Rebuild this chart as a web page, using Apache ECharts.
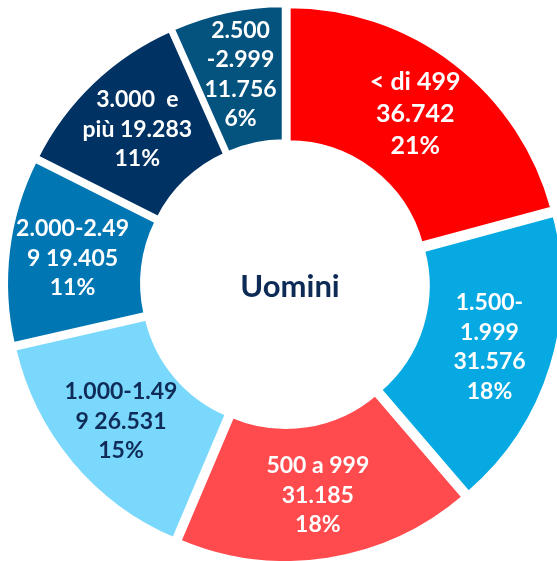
<!DOCTYPE html>
<html>
<head>
<meta charset="utf-8">
<script src="https://cdn.jsdelivr.net/npm/echarts@6/dist/echarts.min.js"></script>
<style>
  html, body { margin: 0; padding: 0; background: #fff; }
  #main { width: 557px; height: 561px; }
</style>
</head>
<body>
<div id="main"></div>
<script>
// fasce di reddito, in senso orario dall'alto
var categories = ['< di 499', '1.500-1.999', '500 a 999', '1.000-1.499', '2.000-2.499', '3.000 e più', '2.500-2.999'];
var values = [36742, 31576, 31185, 26531, 19405, 19283, 11756];
var percents = ['21%', '18%', '18%', '15%', '11%', '11%', '6%'];
// testo delle etichette come va a capo nell'originale
var labelText = [
    '< di 499\n36.742\n21%',
    '1.500-\n1.999\n31.576\n18%',
    '500 a 999\n31.185\n18%',
    '1.000-1.49\n9 26.531\n15%',
    '2.000-2.49\n9 19.405\n11%',
    '3.000  e\npiù 19.283\n11%',
    '2.500\n-2.999\n11.756\n6%'
];
var colors = ['#ff0000', '#06a9e1', '#ff4b4d', '#79d8fb', '#0076b3', '#003263', '#04537f'];
var labelColors = ['#fff', '#fff', '#fff', '#0f2c58', '#fff', '#fff', '#fff'];

var chart = echarts.init(document.getElementById('main'));

var data = values.map(function (v, i) {
    var big = i === 0;
    return {
        name: categories[i],
        value: v,
        selected: true,
        itemStyle: { color: colors[i] },
        label: {
            formatter: labelText[i],
            color: labelColors[i],
            fontSize: big ? 25 : 23,
            lineHeight: big ? 32 : 29.5
        }
    };
});

var option = {
    backgroundColor: '#fff',
    animation: false,
    graphic: [{
        type: 'text',
        x: 290,
        y: 287,
        style: {
            text: 'Uomini',
            fill: '#0d2b55',
            font: 'bold 31px Lato',
            align: 'center',
            verticalAlign: 'middle'
        }
    }],
    series: [{
        type: 'pie',
        center: [285, 284],
        radius: [137, 273],
        startAngle: 90,
        clockwise: true,
        selectedMode: 'multiple',
        selectedOffset: 6,
        avoidLabelOverlap: false,
        itemStyle: { borderColor: '#fff', borderWidth: 4 },
        label: {
            show: true,
            position: 'inside',
            fontFamily: 'Lato',
            fontWeight: 'bold',
            align: 'center'
        },
        labelLine: { show: false },
        emphasis: { disabled: true },
        data: data
    }]
};
chart.setOption(option);
</script>
</body>
</html>
